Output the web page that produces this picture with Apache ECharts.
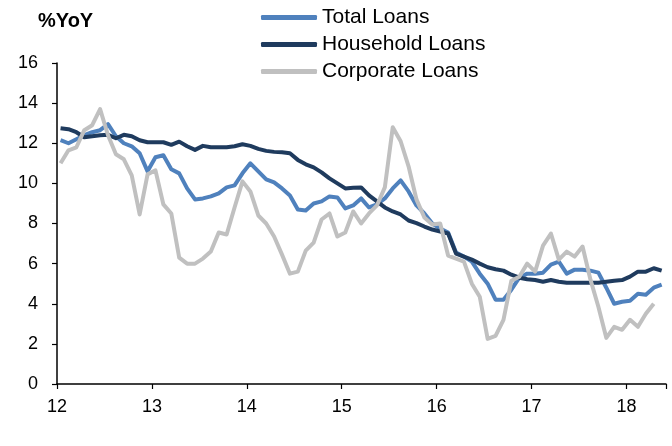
<!DOCTYPE html>
<html>
<head>
<meta charset="utf-8">
<script src="https://cdn.jsdelivr.net/npm/echarts@6/dist/echarts.min.js"></script>
<style>
html,body{margin:0;padding:0;background:#fff;}
#chart{width:672px;height:446px;}
</style>
</head>
<body>
<div id="chart"></div>
<script>
// Monthly data, Jan 2012 onward (x label = 2-digit year)
const startYear = 12;
const pointOffset = 0.45; // points sit mid-month on the date axis
const yearTicks = [12, 13, 14, 15, 16, 17, 18];
const seriesNames = ['Total Loans', 'Household Loans', 'Corporate Loans'];

const totalLoans = [
  12.15, 12.0, 12.2, 12.4, 12.55, 12.65, 12.95, 12.35, 12.0, 11.85, 11.5, 10.6,
  11.3, 11.4, 10.7, 10.5, 9.75, 9.2, 9.25, 9.35, 9.5, 9.8, 9.9, 10.5,
  11.0, 10.6, 10.2, 10.05, 9.75, 9.4, 8.7, 8.65, 9.0, 9.1, 9.35, 9.3,
  8.75, 8.9, 9.25, 8.8, 8.95, 9.25, 9.75, 10.15, 9.6, 8.9, 8.5, 8.0,
  7.75, 7.55, 6.55, 6.35, 6.1, 5.5, 5.0, 4.2, 4.2, 4.7, 5.3, 5.5,
  5.5, 5.55, 5.95, 6.1, 5.5, 5.7, 5.7, 5.65, 5.55, 4.8, 4.0, 4.1,
  4.15, 4.5, 4.45, 4.8, 4.95
];
const householdLoans = [
  12.75, 12.7, 12.55, 12.3, 12.35, 12.4, 12.42, 12.25, 12.42, 12.35, 12.15, 12.05,
  12.05, 12.05, 11.92, 12.08, 11.85, 11.67, 11.87, 11.8, 11.8, 11.8, 11.85, 11.95,
  11.87, 11.72, 11.62, 11.57, 11.55, 11.5, 11.17, 10.95, 10.8, 10.55, 10.25, 10.0,
  9.75, 9.78, 9.8, 9.4, 9.1, 8.8, 8.6, 8.45, 8.15, 8.02, 7.85, 7.7,
  7.6, 7.5, 6.5, 6.35, 6.2, 6.0, 5.82, 5.72, 5.65, 5.45, 5.3, 5.22,
  5.18, 5.1, 5.18, 5.1, 5.05, 5.05, 5.05, 5.05, 5.05, 5.1, 5.15, 5.18,
  5.35, 5.6, 5.6, 5.77, 5.65
];
const corporateLoans = [
  11.0, 11.65, 11.8, 12.65, 12.9, 13.7, 12.4, 11.45, 11.2, 10.4, 8.45, 10.45,
  10.65, 8.95, 8.5, 6.3, 6.0, 6.0, 6.25, 6.6, 7.55, 7.45, 8.8, 10.1,
  9.6, 8.4, 8.0, 7.35, 6.45, 5.5, 5.6, 6.65, 7.05, 8.2, 8.5, 7.35,
  7.55, 8.6, 8.0, 8.5, 8.9, 9.8, 12.8, 12.1, 10.85, 9.2, 8.3, 7.95,
  8.0, 6.4, 6.25, 6.1, 5.0, 4.35, 2.25, 2.4, 3.2, 5.15, 5.35, 6.0,
  5.6, 6.9, 7.5, 6.2, 6.6, 6.35, 6.85, 5.2, 3.85, 2.3, 2.85, 2.7,
  3.2, 2.85, 3.5, 4.0
];

function toPairs(values) {
  return values.map((v, i) => [startYear + (i + pointOffset) / 12, v]);
}

const FONT = '"Liberation Sans", Arial, sans-serif';
const colors = ['#4F81BD', '#1F3B5E', '#C0C0C0'];
const allSeries = [totalLoans, householdLoans, corporateLoans];

const chart = echarts.init(document.getElementById('chart'), null, {renderer: 'canvas'});
chart.setOption({
  animation: false,
  backgroundColor: '#fff',
  title: {
    text: '%YoY',
    left: 33, top: 6,
    textStyle: {fontFamily: FONT, fontWeight: 'bold', fontSize: 20, color: '#000'}
  },
  legend: {
    orient: 'vertical',
    left: 256, top: 2,
    itemWidth: 56, itemHeight: 5,
    itemGap: 6,
    icon: 'roundRect',
    data: seriesNames,
    textStyle: {fontFamily: FONT, fontSize: 21, color: '#000'}
  },
  grid: {left: 57, right: 6, top: 63, bottom: 62, containLabel: false},
  xAxis: {
    type: 'value',
    min: yearTicks[0],
    max: startYear + 77 / 12,
    interval: 1,
    splitLine: {show: false},
    axisLine: {show: true, onZero: false, lineStyle: {color: '#000', width: 1.5}},
    axisTick: {show: true, length: 5, lineStyle: {color: '#000', width: 1.2}},
    axisLabel: {
      fontFamily: FONT, fontSize: 18, color: '#000', margin: 14,
      formatter: v => yearTicks.includes(v) ? String(v) : ''
    }
  },
  yAxis: {
    type: 'value',
    min: 0, max: 16, interval: 2,
    splitLine: {show: false},
    axisLine: {show: true, lineStyle: {color: '#000', width: 1.5}},
    axisTick: {show: true, length: 5, lineStyle: {color: '#000', width: 1.2}},
    axisLabel: {fontFamily: FONT, fontSize: 18, color: '#000', margin: 19}
  },
  series: seriesNames.map((name, i) => ({
    name: name,
    type: 'line',
    data: toPairs(allSeries[i]),
    showSymbol: false,
    symbol: 'none',
    color: colors[i],
    lineStyle: {color: colors[i], width: 4, join: 'round'},
    z: 2 + i
  }))
});
</script>
</body>
</html>
